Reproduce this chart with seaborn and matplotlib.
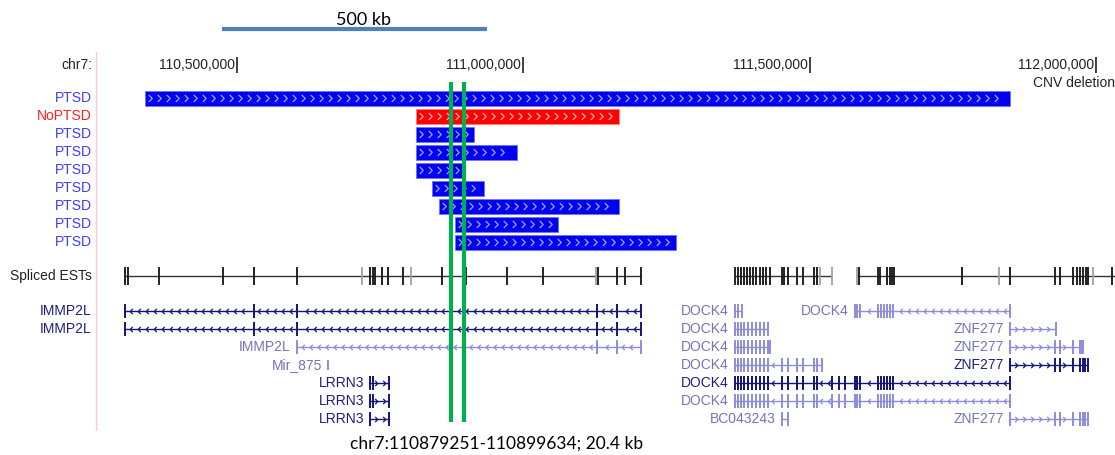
import numpy as np
import matplotlib
matplotlib.use('Agg')
import matplotlib.pyplot as plt
import seaborn as sns
from matplotlib.path import Path
from matplotlib.transforms import blended_transform_factory

# all positions are chr7 coordinates in Mb
view_start, view_end = 110.0861, 112.0332

ruler_pos = [110.5, 111.0, 111.5, 112.0]
ruler_labels = ['110,500,000', '111,000,000', '111,500,000', '112,000,000']

scale_bar = [110.474, 110.937]
scale_text = '500 kb'
scale_text_x = 110.720

cnv_labels = ['PTSD', 'NoPTSD', 'PTSD', 'PTSD', 'PTSD', 'PTSD', 'PTSD', 'PTSD', 'PTSD']
cnv_start = [110.339, 110.813, 110.813, 110.813, 110.813, 110.841, 110.853, 110.881, 110.881]
cnv_end = [111.850, 111.167, 110.914, 110.989, 110.896, 110.931, 111.167, 111.061, 111.267]

highlight = [110.874, 110.896]
highlight_text = 'chr7:110879251-110899634; 20.4 kb'
highlight_text_x = 110.954

est_seg_start = [110.3044, 111.3696, 111.5827]
est_seg_end = [111.2054, 111.5390, 112.0400]
est_black = [110.3044, 110.3096, 110.3638, 110.4755, 110.5296, 110.6047, 110.7322, 110.7374,
             110.7409, 110.7532, 110.7636, 110.7898, 110.8579, 110.8754, 110.8998, 110.9714,
             111.0343, 111.1303, 111.1635, 111.1775, 111.2054,
             111.3696, 111.3748, 111.3800, 111.3853, 111.3905, 111.3958, 111.4010, 111.4063,
             111.4132, 111.4185, 111.4237, 111.4307, 111.4517, 111.4552, 111.4621, 111.4779,
             111.4883, 111.5076, 111.5128, 111.5861, 111.6193, 111.6228, 111.6350, 111.6402,
             111.6437, 111.6472, 111.7660, 111.8498, 111.9284, 111.9371, 111.9598, 111.9668,
             111.9720, 111.9773, 111.9825, 111.9860, 112.0279]
est_gray = [110.7182, 110.8038, 111.1268, 111.5180, 111.5390, 111.5827, 111.8306, 111.9948]

dock_head = [111.3696, 111.3748, 111.3800, 111.3853, 111.3923, 111.3993, 111.4063, 111.4132,
             111.4202, 111.4272]
dock_mid = [111.4517, 111.4621, 111.4779, 111.4883, 111.5076, 111.5128]
dock_tail = [111.5390, 111.5512, 111.5617, 111.5791, 111.5826, 111.5879, 111.6193, 111.6245,
             111.6298, 111.6350, 111.6402, 111.6455, 111.8498]
znf_full = [111.8498, 111.9284, 111.9371, 111.9598, 111.9720, 111.9773, 111.9808, 111.9860]
immp_full = [110.3044, 110.5296, 110.6047, 111.1286, 111.1635, 111.2054]

gene_names = ['IMMP2L', 'IMMP2L', 'IMMP2L', 'Mir_875', 'LRRN3', 'LRRN3', 'LRRN3',
              'DOCK4', 'DOCK4', 'DOCK4', 'DOCK4', 'DOCK4', 'DOCK4', 'DOCK4', 'BC043243',
              'ZNF277', 'ZNF277', 'ZNF277', 'ZNF277']
gene_rows = [0, 1, 2, 3, 4, 5, 6, 0, 0, 1, 2, 3, 4, 5, 6, 1, 2, 3, 6]
gene_start = [110.3044, 110.3044, 110.6047, 110.6589, 110.7322, 110.7322, 110.7322,
              111.3696, 111.5791, 111.3696, 111.3696, 111.3696, 111.3696, 111.3696, 111.4517,
              111.8498, 111.8498, 111.8498, 111.8498]
gene_end = [111.2054, 111.2054, 111.2054, 110.6589, 110.7654, 110.7654, 110.7654,
            111.3818, 111.8498, 111.4272, 111.4307, 111.5215, 111.8498, 111.8498, 111.4621,
            111.9301, 111.9755, 111.9860, 111.9860]
gene_exons = [immp_full, immp_full, immp_full[2:], [110.6589],
              [110.7322, 110.7374, 110.7654], [110.7322, 110.7374, 110.7654], [110.7322, 110.7654],
              [111.3696, 111.3748, 111.3818], dock_tail[3:], dock_head, dock_head + [111.4307],
              dock_head + dock_mid + [111.5215], dock_head + dock_mid + dock_tail,
              dock_head + dock_mid + dock_tail, [111.4517, 111.4621],
              [111.8498, 111.9301], znf_full[:6] + [111.9755], znf_full, znf_full]
gene_strand = ['-', '-', '-', '+', '+', '+', '+', '-', '-', '-', '-', '-', '-', '-', '+',
               '+', '+', '+', '+']
gene_dark = [True, True, False, False, True, True, True, False, False, False, False, False,
             True, False, False, False, False, True, False]

sns.set_theme(style='white')
plt.rcParams['font.family'] = ['Liberation Sans', 'DejaVu Sans']

fig = plt.figure(figsize=(11.15, 4.55), dpi=100)
ax = fig.add_axes([0, 0, 1, 1])
ax.set_xlim(view_start, view_end)
ax.set_ylim(455, 0)
ax.axis('off')

px = (view_end - view_start) / 1115.0
lab = blended_transform_factory(ax.transAxes, ax.transData)
lab_x = 0.0825
fs = 10

right = Path([(-0.5, 1), (0.5, 0), (-0.5, -1)], [Path.MOVETO, Path.LINETO, Path.LINETO])
left = Path([(0.5, 1), (-0.5, 0), (0.5, -1)], [Path.MOVETO, Path.LINETO, Path.LINETO])

# label column divider
ax.plot([0.086, 0.086], [52, 430], color='#ffc8c8', lw=1, transform=lab)

# scale bar
ax.plot(scale_bar, [29, 29], color='#4f81bd', lw=3, solid_capstyle='butt')
ax.text(scale_text_x, 20, scale_text, ha='center', va='center', fontsize=13,
        family=['Lato', 'DejaVu Sans'], color='black')

# ruler
ax.text(lab_x, 65, 'chr7:', transform=lab, ha='right', va='center', fontsize=fs, color='#222222')
ax.vlines(ruler_pos, 57, 73, color='#222222', lw=1.2)
for p, t in zip(ruler_pos, ruler_labels):
    ax.text(p - 2 * px, 65, t, ha='right', va='center', fontsize=fs, color='#222222')
ax.text(1033 / 1115.0, 83, 'CNV deletion', transform=lab, ha='left', va='center',
        fontsize=fs, color='#222222')

# CNV track
cnv_y = 98 + 18 * np.arange(len(cnv_labels))
for i, (lbl, s, e) in enumerate(zip(cnv_labels, cnv_start, cnv_end)):
    red = lbl == 'NoPTSD'
    ax.barh(cnv_y[i], e - s, left=s, height=15,
            color='#ff0000' if red else '#0000f0',
            edgecolor='#ff8080' if red else '#7070ff', lw=0.6)
    xs = np.arange(s + 5 * px, e - 6 * px, 9 * px)
    ax.plot(xs, np.full(len(xs), cnv_y[i]), ls='none', marker=right, ms=5, mfc='none',
            mec='#ffb0b0' if red else '#a8a8ff', mew=0.9)
    ax.text(lab_x, cnv_y[i] + 0.5, lbl, transform=lab, ha='right', va='center', fontsize=fs,
            color='#ff2020' if red else '#3c3cff')

# spliced ESTs
est_y = 276
ax.text(lab_x, est_y, 'Spliced ESTs', transform=lab, ha='right', va='center', fontsize=fs,
        color='#222222')
ax.hlines([est_y] * 3, est_seg_start, est_seg_end, color='#333333', lw=1)
ax.vlines(est_gray, est_y - 9, est_y + 9, color='#a0a0a0', lw=1.3)
ax.vlines(est_black, est_y - 9, est_y + 9, color='#111111', lw=1.3)

# genes
gene_y0 = 311
for n, r, s, e, ex, st, dk in zip(gene_names, gene_rows, gene_start, gene_end, gene_exons,
                                   gene_strand, gene_dark):
    y = gene_y0 + 18 * r
    lc = '#14147a' if dk else '#8c8cdc'
    tc = '#1e1e80' if dk else '#7474b8'
    if e > s:
        ax.hlines(y, s, e, color=lc, lw=1)
        xs = np.arange(s + 6 * px, e - 3 * px, 8 * px)
        ex_arr = np.array(ex)
        keep = [x for x in xs if np.min(np.abs(ex_arr - x)) > 3 * px]
        ax.plot(keep, [y] * len(keep), ls='none', marker=right if st == '+' else left,
                ms=3.8, mfc='none', mec=lc, mew=0.9)
    h = 5 if n == 'Mir_875' else 7
    ax.vlines(ex, y - h, y + h, color=lc, lw=1.4)
    if s < 110.32:
        ax.text(lab_x, y, n, transform=lab, ha='right', va='center', fontsize=fs, color=tc)
    else:
        ax.text(s - 6 * px, y, n, ha='right', va='center', fontsize=fs, color=tc)

# highlighted region
ax.vlines(highlight, 82, 422, color='#00b050', lw=3)
ax.text(highlight_text_x, 444, highlight_text, ha='center', va='center', fontsize=12.5,
        family=['Lato', 'DejaVu Sans'], color='black')

fig.savefig('out.png', dpi=100)
